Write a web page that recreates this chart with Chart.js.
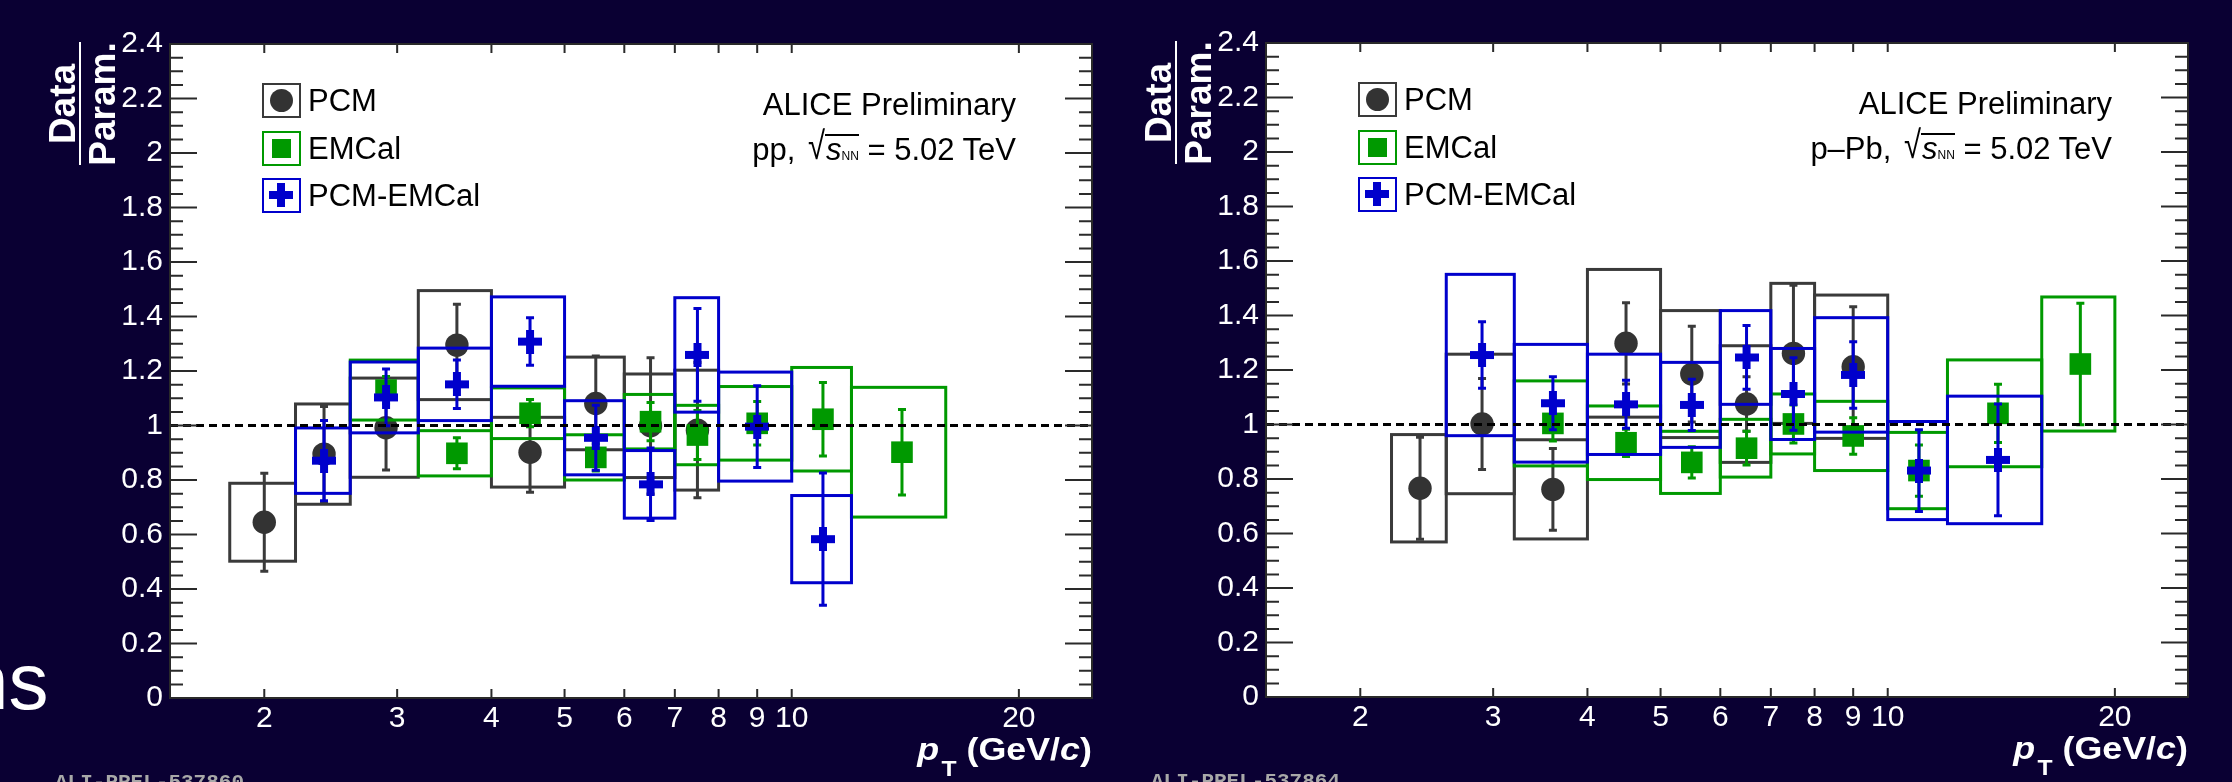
<!DOCTYPE html>
<html lang="en">
<head>
    <meta charset="UTF-8">
    <title>Data / Param. - pp and p-Pb at 5.02 TeV</title>
    <script src="https://cdn.jsdelivr.net/npm/chart.js@4.4.2/dist/chart.umd.min.js"></script>
    <style>
        body {
            margin: 0;
            width: 2232px;
            height: 782px;
            overflow: hidden;
            position: relative;
            background-color: #0a0033;
            font-family: "Liberation Sans", Arial, sans-serif;
        }
        .panel {
            position: absolute;
            top: 0;
            width: 1116px;
            height: 782px;
        }
        .panel canvas {
            position: absolute;
            left: 0;
            top: 0;
        }
        /* legend */
        .leg {
            position: absolute;
            left: 262px;
            height: 35px;
            display: flex;
            align-items: center;
        }
        .lbox {
            position: relative;
            width: 39px;
            height: 35px;
            box-sizing: border-box;
            border: 2.5px solid;
        }
        .lbox.pcm { border-color: #3a3a3a; }
        .lbox.emc { border-color: #009900; }
        .lbox.mix { border-color: #0000cc; }
        .lbox .dot {
            position: absolute; left: 5.5px; top: 3.5px;
            width: 23px; height: 23px; border-radius: 50%; background: #333;
        }
        .lbox .sq {
            position: absolute; left: 7.5px; top: 5.5px;
            width: 19px; height: 19px; background: #009900;
        }
        .lbox .hbar {
            position: absolute; left: 5px; top: 11px;
            width: 24px; height: 8px; background: #0000cc;
        }
        .lbox .vbar {
            position: absolute; left: 13px; top: 3px;
            width: 8px; height: 24px; background: #0000cc;
        }
        .ltxt {
            margin-left: 7px;
            font-size: 31px;
            color: #000;
        }
        .info {
            position: absolute;
            right: 100px;
            font-size: 31px;
            line-height: 31px;
            color: #000;
            white-space: nowrap;
        }
        .info .ov {
            display: inline-block;
            border-top: 2px solid #000;
            line-height: 27px;
            padding-left: 1px;
        }
        .info .nn { font-size: 12px; }
        .info .rad {
            display: inline-block;
            font-size: 31px;
            margin-left: 4px;
            transform: scaleY(1.25);
            transform-origin: center bottom;
        }
        .ytitle {
            position: absolute;
            left: 80px;
            top: 104px;
            width: 0;
            height: 0;
            transform: rotate(-90deg);
            color: #fff;
            font-weight: bold;
            font-size: 37px;
            line-height: 37px;
        }
        .ytitle div {
            position: absolute;
            left: -200px;
            width: 400px;
            text-align: center;
        }
        .ytitle .bar {
            left: -61px;
            width: 123px;
            top: -1px;
            height: 2px;
            background: #fff;
        }
        .xtitle {
            position: absolute;
            right: 24px;
            top: 733px;
            font-size: 32px;
            line-height: 32px;
            font-weight: bold;
            color: #fff;
            white-space: nowrap;
            transform: scaleX(1.12);
            transform-origin: right center;
        }
        .xtitle .sub {
            font-size: 22px;
            position: relative;
            top: 16px;
            margin-left: 2px;
        }
        .prel {
            position: absolute;
            left: 55px;
            top: 771px;
            font-family: "Liberation Mono", "DejaVu Sans Mono", monospace;
            font-weight: bold;
            font-size: 21px;
            color: #a8a8a8;
        }
        .slide {
            position: absolute;
            left: -36px;
            top: 642px;
            font-size: 80px;
            line-height: 80px;
            color: #fff;
        }
    </style>
</head>
<body>
    <div class="slide">ns</div>

    <div class="panel" id="panelPP" style="left:0px;">
        <canvas id="chartPP" width="1116" height="782"></canvas>
        <div class="ytitle"><div style="top:-36px;">Data</div><div class="bar"></div><div style="top:4px;">Param.</div></div>
        <div class="leg" style="top:83px;"><span class="lbox pcm"><span class="dot"></span></span><span class="ltxt">PCM</span></div>
        <div class="leg" style="top:131px;"><span class="lbox emc"><span class="sq"></span></span><span class="ltxt">EMCal</span></div>
        <div class="leg" style="top:178px;"><span class="lbox mix"><span class="hbar"></span><span class="vbar"></span></span><span class="ltxt">PCM-EMCal</span></div>
        <div class="info" style="top:89px;">ALICE Preliminary</div>
        <div class="info" style="top:134px;">pp, <span class="rad">√</span><span class="ov"><i>s</i><span class="nn">NN</span></span> = 5.02 TeV</div>
        <div class="xtitle"><i>p</i><span class="sub">T</span> (GeV/<i>c</i>)</div>
        <div class="prel">ALI-PREL-537860</div>
    </div>

    <div class="panel" id="panelPPb" style="left:1096px; top:-1px;">
        <canvas id="chartPPb" width="1116" height="782"></canvas>
        <div class="ytitle"><div style="top:-36px;">Data</div><div class="bar"></div><div style="top:4px;">Param.</div></div>
        <div class="leg" style="top:83px;"><span class="lbox pcm"><span class="dot"></span></span><span class="ltxt">PCM</span></div>
        <div class="leg" style="top:131px;"><span class="lbox emc"><span class="sq"></span></span><span class="ltxt">EMCal</span></div>
        <div class="leg" style="top:178px;"><span class="lbox mix"><span class="hbar"></span><span class="vbar"></span></span><span class="ltxt">PCM-EMCal</span></div>
        <div class="info" style="top:89px;">ALICE Preliminary</div>
        <div class="info" style="top:134px;">p–Pb, <span class="rad">√</span><span class="ov"><i>s</i><span class="nn">NN</span></span> = 5.02 TeV</div>
        <div class="xtitle"><i>p</i><span class="sub">T</span> (GeV/<i>c</i>)</div>
        <div class="prel">ALI-PREL-537864</div>
    </div>

    <script>
        // --- Binning (GeV/c) ---
        const ptEdges   = [1.8, 2.2, 2.6, 3.2, 4.0, 5.0, 6.0, 7.0, 8.0, 10.0, 12.0, 16.0, 20.0];
        const ptCenters = [2.0, 2.4, 2.9, 3.6, 4.5, 5.5, 6.5, 7.5, 9.0, 11.0, 14.0, 18.0];

        // --- Axis ticks ---
        const xTickVals = [2, 3, 4, 5, 6, 7, 8, 9, 10, 20];
        const yMin = 0, yMax = 2.4, yStep = 0.2, yMinorStep = 0.05;

        // --- pp, 5.02 TeV ---
        const ppPcmVal  = [0.645, 0.895, 0.992, 1.295, 0.902, 1.081, 0.999, 0.983, null, null, null, null];
        const ppPcmStat = [0.180, 0.175, 0.155, 0.150, 0.147, 0.174, 0.250, 0.248, null, null, null, null];
        const ppPcmSys  = [0.143, 0.184, 0.182, 0.200, 0.128, 0.170, 0.190, 0.220, null, null, null, null];

        const ppEmcVal  = [null, null, 1.130, 0.898, 1.045, 0.883, 1.014, 0.965, 1.008, 1.023, 0.902, null];
        const ppEmcStat = [null, null, 0.050, 0.057, 0.050, 0.050, 0.070, 0.090, 0.080, 0.135, 0.157, null];
        const ppEmcSys  = [null, null, 0.110, 0.083, 0.093, 0.083, 0.100, 0.109, 0.135, 0.190, 0.238, null];

        const ppMixVal  = [null, 0.871, 1.103, 1.151, 1.308, 0.955, 0.784, 1.259, 0.996, 0.583, null, null];
        const ppMixStat = [null, 0.147, 0.104, 0.089, 0.087, 0.119, 0.133, 0.170, 0.150, 0.243, null, null];
        const ppMixSys  = [null, 0.120, 0.130, 0.133, 0.164, 0.136, 0.124, 0.210, 0.200, 0.160, null, null];

        // --- p-Pb, 5.02 TeV ---
        const pPbPcmVal  = [null, 0.766, 1.002, 0.762, 1.298, 1.185, 1.075, 1.261, 1.212, null, null, null];
        const pPbPcmStat = [null, 0.187, 0.167, 0.150, 0.149, 0.176, 0.100, 0.250, 0.220, null, null, null];
        const pPbPcmSys  = [null, 0.197, 0.256, 0.182, 0.271, 0.233, 0.214, 0.257, 0.263, null, null, null];

        const pPbEmcVal  = [null, null, null, 1.004, 0.933, 0.861, 0.913, 1.002, 0.958, 0.831, 1.041, 1.222];
        const pPbEmcStat = [null, null, null, 0.065, 0.050, 0.057, 0.062, 0.070, 0.067, 0.094, 0.107, 0.223];
        const pPbEmcSys  = [null, null, null, 0.156, 0.135, 0.114, 0.106, 0.110, 0.127, 0.140, 0.196, 0.246];

        const pPbMixVal  = [null, null, 1.255, 1.078, 1.074, 1.072, 1.246, 1.112, 1.182, 0.831, 0.870, null];
        const pPbMixStat = [null, null, 0.122, 0.097, 0.088, 0.094, 0.117, 0.133, 0.122, 0.150, 0.205, null];
        const pPbMixSys  = [null, null, 0.296, 0.216, 0.184, 0.156, 0.172, 0.167, 0.210, 0.180, 0.234, null];

        // --- Colours ---
        const colPcm = '#333333', colPcmBox = '#3a3a3a';
        const colEmc = '#009900';
        const colMix = '#0000cc';
        const fontFamily = '"Liberation Sans", Arial, sans-serif';

        // thick cross marker (like ROOT style 34)
        function makeCross(size, thick, color) {
            const c = document.createElement('canvas');
            c.width = size; c.height = size;
            const g = c.getContext('2d');
            g.fillStyle = color;
            g.fillRect(0, (size - thick) / 2, size, thick);
            g.fillRect((size - thick) / 2, 0, thick, size);
            return c;
        }
        const crossImg = makeCross(24, 8, colMix);

        function makePoints(vals, stats, syss) {
            const pts = [];
            vals.forEach((v, i) => {
                if (v === null) return;
                pts.push({ x: ptCenters[i], y: v, lo: ptEdges[i], hi: ptEdges[i + 1], stat: stats[i], sys: syss[i] });
            });
            return pts;
        }

        // white pad
        const padBackground = {
            id: 'padBackground',
            beforeDraw(chart) {
                const { ctx, chartArea: a } = chart;
                ctx.save();
                ctx.fillStyle = '#ffffff';
                ctx.fillRect(a.left, a.top, a.right - a.left, a.bottom - a.top);
                ctx.restore();
            }
        };

        // systematic boxes + statistical error bars, drawn just before each dataset's markers
        const boxesAndErrors = {
            id: 'boxesAndErrors',
            beforeDatasetDraw(chart, args) {
                const ds = chart.data.datasets[args.index];
                const { ctx, chartArea: a } = chart;
                const xs = chart.scales.x, ys = chart.scales.y;
                ctx.save();
                ctx.beginPath();
                ctx.rect(a.left, a.top, a.right - a.left, a.bottom - a.top);
                ctx.clip();
                ctx.strokeStyle = ds.boxColor;
                ctx.lineWidth = 3;
                ds.data.forEach(p => {
                    const x0 = xs.getPixelForValue(p.lo), x1 = xs.getPixelForValue(p.hi);
                    const yt = ys.getPixelForValue(p.y + p.sys), yb = ys.getPixelForValue(p.y - p.sys);
                    ctx.strokeRect(x0, yt, x1 - x0, yb - yt);
                });
                ctx.strokeStyle = ds.errColor;
                ctx.beginPath();
                ds.data.forEach(p => {
                    const px = xs.getPixelForValue(p.x);
                    const y0 = ys.getPixelForValue(p.y + p.stat), y1 = ys.getPixelForValue(p.y - p.stat);
                    ctx.moveTo(px, y0); ctx.lineTo(px, y1);
                    ctx.moveTo(px - 4, y0); ctx.lineTo(px + 4, y0);
                    ctx.moveTo(px - 4, y1); ctx.lineTo(px + 4, y1);
                });
                ctx.stroke();
                ctx.restore();
            }
        };

        // dashed unity line, frame and inward ticks on all four sides
        const frameAndTicks = {
            id: 'frameAndTicks',
            afterDatasetsDraw(chart) {
                const { ctx, chartArea: a } = chart;
                const ys = chart.scales.y;
                const py = ys.getPixelForValue(1);
                ctx.save();
                ctx.strokeStyle = '#000';
                ctx.lineWidth = 3;
                ctx.setLineDash([8, 5]);
                ctx.beginPath();
                ctx.moveTo(a.left, py);
                ctx.lineTo(a.right, py);
                ctx.stroke();
                ctx.restore();
            },
            afterDraw(chart) {
                const { ctx, chartArea: a } = chart;
                const xs = chart.scales.x, ys = chart.scales.y;
                ctx.save();
                ctx.strokeStyle = '#2a2a2a';
                ctx.lineWidth = 2;
                ctx.beginPath();
                const nMinor = Math.round((yMax - yMin) / yMinorStep);
                for (let i = 1; i < nMinor; i++) {
                    const v = yMin + i * yMinorStep;
                    const len = (i % Math.round(yStep / yMinorStep) === 0) ? 27 : 13;
                    const py = ys.getPixelForValue(v);
                    ctx.moveTo(a.left, py); ctx.lineTo(a.left + len, py);
                    ctx.moveTo(a.right, py); ctx.lineTo(a.right - len, py);
                }
                xTickVals.forEach(v => {
                    const px = xs.getPixelForValue(v);
                    ctx.moveTo(px, a.bottom); ctx.lineTo(px, a.bottom - 9);
                    ctx.moveTo(px, a.top); ctx.lineTo(px, a.top + 9);
                });
                ctx.stroke();
                ctx.strokeRect(a.left, a.top, a.right - a.left, a.bottom - a.top);
                ctx.restore();
            }
        };

        function renderPanel(canvasId, pcm, emc, mix) {
            const ctx = document.getElementById(canvasId).getContext('2d');
            new Chart(ctx, {
                type: 'scatter',
                data: {
                    datasets: [
                        {
                            label: 'PCM-EMCal', data: mix, order: 1,
                            pointStyle: crossImg, pointRadius: 12,
                            boxColor: colMix, errColor: colMix
                        },
                        {
                            label: 'EMCal', data: emc, order: 2,
                            pointStyle: 'rect', pointRadius: 15.3, pointBorderWidth: 0,
                            backgroundColor: colEmc, borderColor: colEmc,
                            boxColor: colEmc, errColor: colEmc
                        },
                        {
                            label: 'PCM', data: pcm, order: 3,
                            pointStyle: 'circle', pointRadius: 11.7, pointBorderWidth: 0,
                            backgroundColor: colPcm, borderColor: colPcm,
                            boxColor: colPcmBox, errColor: colPcmBox
                        }
                    ]
                },
                options: {
                    responsive: false,
                    animation: false,
                    layout: { padding: { left: 0, right: 24, top: 44, bottom: 0 } },
                    plugins: {
                        legend: { display: false },
                        tooltip: { enabled: false }
                    },
                    scales: {
                        x: {
                            type: 'logarithmic',
                            min: 1.5,
                            max: 25,
                            afterBuildTicks: s => { s.ticks = xTickVals.map(v => ({ value: v })); },
                            afterFit: s => { s.height = 84; },
                            grid: { display: false, drawTicks: false },
                            border: { display: false },
                            ticks: {
                                color: '#fff',
                                font: { family: fontFamily, size: 30 },
                                padding: 3,
                                autoSkip: false,
                                maxRotation: 0,
                                callback: v => String(v)
                            }
                        },
                        y: {
                            min: yMin,
                            max: yMax,
                            afterFit: s => { s.width = 170; },
                            grid: { display: false, drawTicks: false },
                            border: { display: false },
                            ticks: {
                                stepSize: yStep,
                                color: '#fff',
                                font: { family: fontFamily, size: 30 },
                                padding: 7,
                                callback: v => String(+v.toFixed(1))
                            }
                        }
                    }
                },
                plugins: [padBackground, boxesAndErrors, frameAndTicks]
            });
        }

        renderPanel('chartPP',
            makePoints(ppPcmVal, ppPcmStat, ppPcmSys),
            makePoints(ppEmcVal, ppEmcStat, ppEmcSys),
            makePoints(ppMixVal, ppMixStat, ppMixSys));

        renderPanel('chartPPb',
            makePoints(pPbPcmVal, pPbPcmStat, pPbPcmSys),
            makePoints(pPbEmcVal, pPbEmcStat, pPbEmcSys),
            makePoints(pPbMixVal, pPbMixStat, pPbMixSys));
    </script>
</body>
</html>
